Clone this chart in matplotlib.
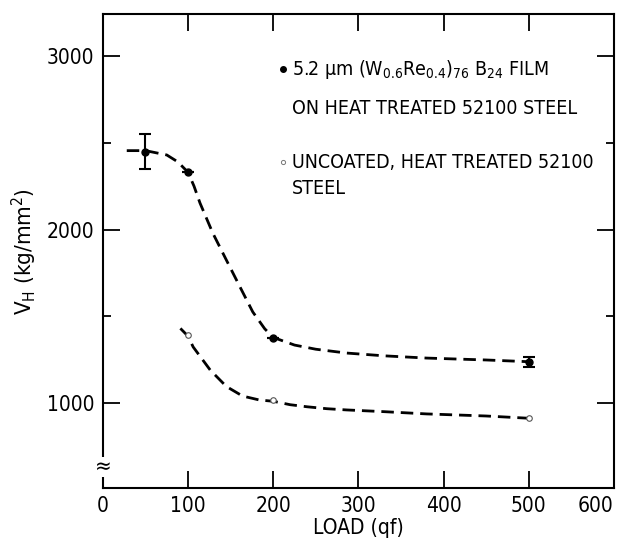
import matplotlib
matplotlib.use('Agg')
from matplotlib import pyplot as plt
from matplotlib.ticker import MultipleLocator

plt.rcParams['font.family'] = ['DejaVu Sans']
plt.rcParams['font.stretch'] = 'condensed'
plt.rcParams['mathtext.fontset'] = 'custom'
plt.rcParams['mathtext.rm'] = 'DejaVu Sans'
plt.rcParams['mathtext.it'] = 'DejaVu Sans:italic'

# measured points, coated film
coated_load = [50, 100, 200, 500]
coated_hv = [2450, 2330, 1372, 1238]
coated_err = [100, 0, 0, 30]

# measured points, uncoated steel
uncoated_load = [100, 200, 500]
uncoated_hv = [1390, 1015, 912]

# hand-drawn trend curves
coated_curve_x = [28, 50, 75, 88, 100, 107, 114, 129, 145, 161, 176, 190, 200,
                  225, 250, 286, 330, 380, 450, 500]
coated_curve_y = [2455, 2455, 2430, 2390, 2330, 2250, 2153, 1980, 1824, 1669,
                  1525, 1428, 1378, 1334, 1310, 1288, 1272, 1259, 1248, 1238]
uncoated_curve_x = [91, 100, 106, 126, 145, 164, 184, 200, 220, 240, 263, 286,
                    330, 380, 450, 500]
uncoated_curve_y = [1430, 1385, 1323, 1190, 1095, 1040, 1017, 1010, 990, 978,
                    967, 960, 950, 937, 925, 912]

fig = plt.figure(figsize=(6.2, 5.44), dpi=100)
ax = fig.add_axes([0.166, 0.103, 0.824, 0.871])

dash = dict(color='k', lw=2.0, dashes=(4.5, 2.5))
ax.plot(coated_curve_x, coated_curve_y, **dash)
ax.plot(uncoated_curve_x, uncoated_curve_y, **dash)

ax.errorbar(coated_load, coated_hv, yerr=coated_err, fmt='o', ms=5, color='k',
            ecolor='k', elinewidth=1.5, capsize=4, capthick=1.5, zorder=3)
ax.plot(uncoated_load, uncoated_hv, 'o', ms=4, mfc='white', mec='#555555',
        mew=0.8, zorder=3)

ax.set_xlim(0, 600)
ax.set_ylim(510, 3242)
ax.set_xticks([0, 100, 200, 300, 400, 500, 600])
ax.set_yticks([1000, 2000, 3000])
ax.yaxis.set_minor_locator(MultipleLocator(500))
ax.tick_params(which='both', direction='in', top=True, right=True,
               labelsize=15, width=1.3, pad=6)
ax.tick_params(which='major', length=12)
ax.tick_params(which='minor', length=6)
for s in ax.spines.values():
    s.set_linewidth(1.5)
ax.get_xticklabels()[-1].set_horizontalalignment('right')

ax.set_xlabel('LOAD (qf)', fontsize=15, labelpad=1)
ax.set_ylabel(r'V$_{\rm H}$ (kg/mm$^{2}$)', fontsize=16)
ax.yaxis.set_label_coords(-0.125, 0.5)

# axis break mark
ax.text(0, 631, '\u2248', fontsize=16, ha='center', va='center',
        clip_on=False, bbox=dict(fc='white', ec='none', pad=0))

# in-plot key
ax.plot([211], [2925], 'o', ms=4, color='k')
ax.text(222, 2925, r'5.2 µm (W$_{0.6}$Re$_{0.4}$)$_{76}$ B$_{24}$ FILM',
        fontsize=14, va='center')
ax.text(222, 2700, 'ON HEAT TREATED 52100 STEEL', fontsize=14, va='center')
ax.plot([211], [2389], 'o', ms=3, mfc='white', mec='#777777', mew=0.7)
ax.text(222, 2389, 'UNCOATED, HEAT TREATED 52100', fontsize=14, va='center')
ax.text(222, 2239, 'STEEL', fontsize=14, va='center')

fig.savefig('out.png', dpi=100)
